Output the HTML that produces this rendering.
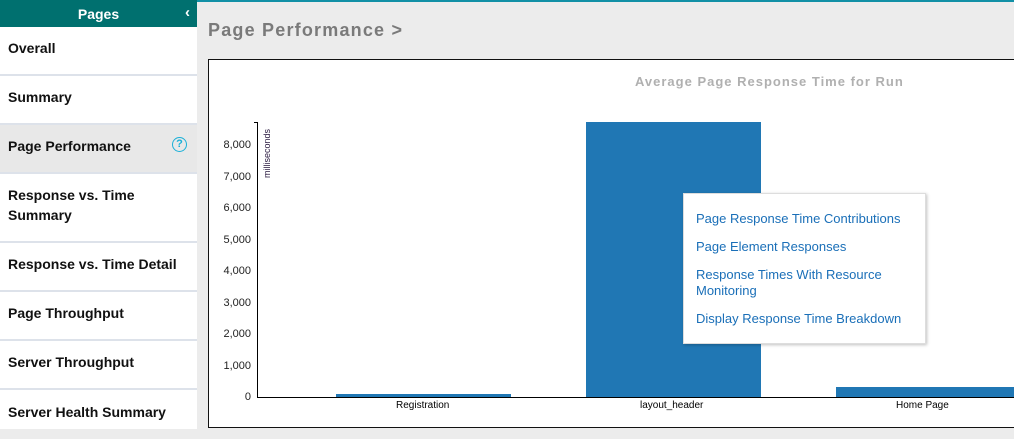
<!DOCTYPE html>
<html><head><style>
body{margin:0;width:1014px;height:429px;overflow:hidden;background:#ececec;font-family:"Liberation Sans",sans-serif;position:relative}
.a{position:absolute}
.side{left:0;top:0;width:197px;height:429px;background:#fff}
.hd{left:0;top:0;width:197px;height:27px;background:#00706f;color:#fff;font-size:14px;font-weight:bold;text-align:center;line-height:28px}
.it{left:0;width:197px;font-size:14px;font-weight:bold;color:#111;border-bottom:2px solid #dde2ea;box-sizing:border-box;padding-left:8px;padding-bottom:5px;display:flex;align-items:center;line-height:20px}
.t{font-size:11px;color:#222;text-align:right;width:40px}
.lk{color:#1a6fb8;font-size:13px;left:696px}
</style></head><body>
<div class="a" style="left:197px;top:0;width:817px;height:2px;background:#1190a6"></div>
<div class="a side"></div>
<div class="a hd">Pages<span style="position:absolute;right:7px;top:-1px;font-size:15px">‹</span></div>
<div class="a it" style="top:27px;height:49px">Overall</div>
<div class="a it" style="top:76px;height:49px">Summary</div>
<div class="a it" style="top:125px;height:49px;background:#e8e8e8">Page Performance<span style="position:absolute;left:172px;top:12px;width:13px;height:13px;border:1.5px solid #1ab0d8;border-radius:50%;color:#1ab0d8;font-size:11px;line-height:13px;text-align:center">?</span></div>
<div class="a it" style="top:174px;height:69px">Response vs. Time<br>Summary</div>
<div class="a it" style="top:243px;height:49px">Response vs. Time Detail</div>
<div class="a it" style="top:292px;height:49px">Page Throughput</div>
<div class="a it" style="top:341px;height:49px">Server Throughput</div>
<div class="a it" style="top:390px;height:49px;border:none">Server Health Summary</div>
<div class="a" style="left:208px;top:20px;font-size:18px;font-weight:bold;color:#7a7a7a;letter-spacing:1.2px">Page Performance &gt;</div>
<div class="a" style="left:208px;top:59px;width:820px;height:367px;background:#fff;border:1px solid #111"></div>
<div class="a" style="left:635px;top:74px;font-size:13px;font-weight:bold;color:#b0b0b0;letter-spacing:1px">Average Page Response Time for Run</div>
<div class="a" style="left:257px;top:122px;width:1px;height:276px;background:#000"></div>
<div class="a" style="left:257px;top:397px;width:757px;height:1px;background:#000"></div>
<div class="a" style="left:254px;top:122px;width:4px;height:1px;background:#000"></div>
<div class="a" style="font-size:9px;color:#2a1a40;transform:rotate(-90deg);transform-origin:0 0;top:178px;left:262px">milliseconds</div>
<div class="a t" style="left:211px;top:139px">8,000</div>
<div class="a t" style="left:211px;top:171px">7,000</div>
<div class="a t" style="left:211px;top:202px">6,000</div>
<div class="a t" style="left:211px;top:234px">5,000</div>
<div class="a t" style="left:211px;top:265px">4,000</div>
<div class="a t" style="left:211px;top:297px">3,000</div>
<div class="a t" style="left:211px;top:328px">2,000</div>
<div class="a t" style="left:211px;top:360px">1,000</div>
<div class="a t" style="left:211px;top:391px">0</div>
<div class="a" style="left:336px;top:394px;width:175px;height:3px;background:#2077b4"></div>
<div class="a" style="left:586px;top:122px;width:175px;height:275px;background:#2077b4"></div>
<div class="a" style="left:836px;top:387px;width:178px;height:10px;background:#2077b4"></div>
<div class="a" style="left:396px;top:400px;font-size:10px">Registration</div>
<div class="a" style="left:640px;top:400px;font-size:10px">layout_header</div>
<div class="a" style="left:896px;top:400px;font-size:10px">Home Page</div>
<div class="a" style="left:683px;top:193px;width:241px;height:149px;background:#fff;border:1px solid #ddd;box-shadow:1px 1px 3px rgba(0,0,0,.25)"></div>
<div class="a lk" style="top:211px">Page Response Time Contributions</div>
<div class="a lk" style="top:239px">Page Element Responses</div>
<div class="a lk" style="top:267px;line-height:16px">Response Times With Resource<br>Monitoring</div>
<div class="a lk" style="top:311px">Display Response Time Breakdown</div>
</body></html>
